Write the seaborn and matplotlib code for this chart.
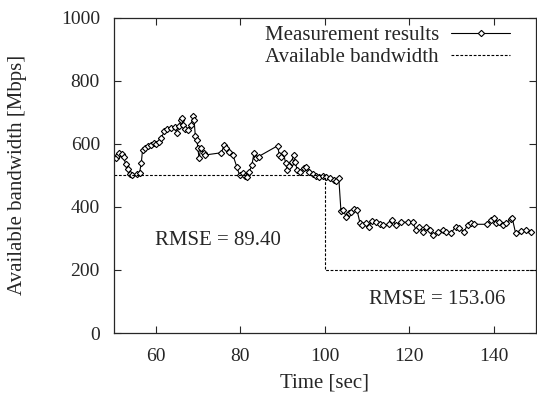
import matplotlib
matplotlib.use("Agg")
import matplotlib.pyplot as plt
import seaborn as sns
import pandas as pd

time_s = [50.5, 51.0, 51.3, 51.9, 52.3, 52.8, 53.4, 53.9, 54.4, 55.5, 56.1, 56.5, 56.8, 57.4, 58.0,
          58.8, 59.4, 60.0, 60.6, 61.2, 62.0, 62.5, 63.5, 64.5, 64.9, 65.5, 65.9, 66.2, 66.5, 66.8,
          67.6, 68.3, 68.8, 69.0, 69.3, 69.7, 69.9, 70.2, 70.6, 71.3, 71.7, 75.5, 76.1, 76.6, 77.4,
          78.2, 79.1, 79.8, 80.6, 81.0, 81.6, 82.1, 82.7, 83.2, 83.7, 84.3, 88.8, 89.2, 89.7, 90.2,
          90.7, 91.1, 91.5, 92.1, 92.6, 93.0, 93.4, 94.2, 95.0, 95.6, 96.3, 97.1, 97.9, 98.7, 99.5,
          100.3, 101.1, 102.1, 102.7, 103.3, 103.8, 104.4, 105.0, 105.6, 106.2, 107.0, 107.6, 108.3,
          108.9, 109.7, 110.4, 111.1, 112.1, 113.0, 113.7, 115.3, 116.0, 116.8, 118.0, 119.6, 120.8,
          121.6, 122.4, 123.2, 124.0, 124.8, 125.5, 126.7, 127.9, 128.7, 129.8, 131.0, 131.8, 133.0,
          133.8, 134.6, 135.4, 138.5, 139.3, 140.1, 140.5, 141.3, 142.1, 142.9, 144.0, 144.4, 145.2,
          146.4, 147.6, 148.8]
measured = [555, 565, 572, 567, 560, 535, 520, 505, 500, 505, 509, 539, 581, 586, 592,
            597, 602, 599, 605, 618, 641, 648, 650, 655, 634, 658, 676, 681, 660, 648,
            644, 660, 689, 677, 626, 613, 586, 555, 586, 570, 565, 572, 597, 586, 575,
            565, 528, 500, 507, 497, 496, 512, 533, 570, 555, 560, 594, 565, 560, 571,
            539, 517, 530, 544, 565, 544, 517, 512, 522, 528, 510, 505, 499, 496, 499,
            494, 492, 484, 481, 491, 388, 391, 369, 382, 385, 393, 391, 350,
            343, 348, 337, 356, 352, 345, 343, 345, 359, 343, 352, 351, 351,
            327, 337, 322, 337, 327, 311, 322, 327, 322, 316, 337, 332, 322,
            343, 348, 345, 345, 359, 364, 348, 352, 343, 348, 361, 364, 316,
            324, 327, 322]

avail_t = [50, 100, 100, 150]
avail_bw = [500, 500, 200, 200]

rmse_labels = ["RMSE = 89.40", "RMSE = 153.06"]

FS_TICK = 14
FS = 15

sns.set_style("ticks")
plt.rcParams["font.family"] = ["Liberation Serif", "DejaVu Serif"]

fig = plt.figure(figsize=(5.37, 3.96), dpi=100)
ax = fig.add_axes([0.212, 0.159, 0.786, 0.796])

df_m = pd.DataFrame({"t": time_s, "v": measured})
df_a = pd.DataFrame({"t": avail_t, "v": avail_bw})

sns.lineplot(data=df_m, x="t", y="v", ax=ax, sort=False, estimator=None, color="black", lw=0.8,
             marker="D", markersize=3.2, markerfacecolor="white", markeredgecolor="black",
             markeredgewidth=0.8, label="Measurement results")
sns.lineplot(data=df_a, x="t", y="v", ax=ax, sort=False, estimator=None, color="black", lw=0.8,
             linestyle=(0, (2.5, 1.5)), label="Available bandwidth")

ax.text(74.6, 295, rmse_labels[0], fontsize=FS, ha="center", va="center")
ax.text(126.6, 105, rmse_labels[1], fontsize=FS, ha="center", va="center")

ax.set_xlim(50, 150)
ax.set_ylim(0, 1000)
ax.set_xticks([60, 80, 100, 120, 140])
ax.set_yticks([0, 200, 400, 600, 800, 1000])
ax.tick_params(direction="in", top=True, right=True, labelsize=FS_TICK, length=5, width=0.8)
ax.tick_params(axis="x", pad=11)
ax.tick_params(axis="y", pad=10)
for s in ax.spines.values():
    s.set_linewidth(0.9)
    s.set_visible(True)
ax.set_xlabel("Time [sec]", fontsize=FS, labelpad=6)
ax.set_ylabel("Available bandwidth [Mbps]", fontsize=FS, labelpad=24)

ax.legend(loc="upper right", bbox_to_anchor=(0.938, 0.975), frameon=False, markerfirst=False,
          fontsize=FS, handlelength=2.8, borderaxespad=0, borderpad=0, labelspacing=0.12,
          handletextpad=0.6)

fig.savefig("out.png", dpi=100)
